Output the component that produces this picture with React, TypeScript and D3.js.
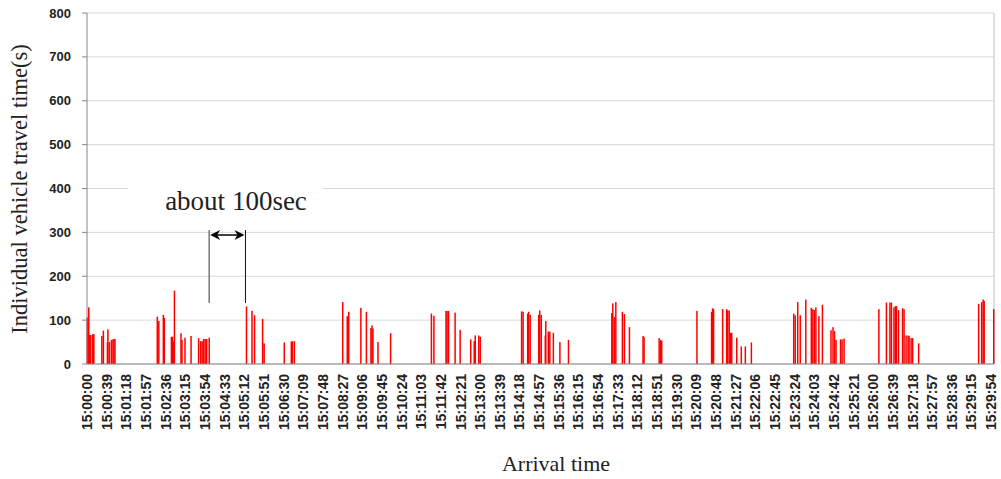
import React from "react";
import * as d3 from "d3";

// Arrival time, seconds after 15:00:00
const arrivalSec: number[] = [
  0, 3, 5, 7, 11, 12, 13, 29, 32, 40, 41, 44, 48, 51, 53, 55,
  139, 142, 151, 153, 167, 169, 171, 173, 186, 188, 194, 206, 221, 225, 228, 231, 234, 237, 242,
  316, 327, 332, 348, 351,
  391, 405, 407, 411,
  507, 516, 519, 543, 554, 563, 565, 567, 577, 602,
  683, 688, 712, 714, 717, 730, 740, 761, 768, 770, 777, 780,
  862, 865, 874, 876, 879, 896, 898, 901, 909, 910, 915, 918, 925, 938, 955,
  1041, 1043, 1046, 1049, 1062, 1066, 1076, 1103, 1105, 1135, 1138, 1140,
  1210, 1239, 1241, 1243, 1261, 1269, 1271, 1274, 1277, 1279, 1289, 1298, 1306, 1318,
  1402, 1405, 1410, 1415, 1426, 1437, 1440, 1443, 1446, 1452, 1459, 1476, 1480, 1483, 1486, 1495, 1498, 1502,
  1571, 1586, 1593, 1596, 1601, 1604, 1606, 1610, 1618, 1621, 1625, 1629, 1631, 1635, 1638, 1650,
  1769, 1775, 1778, 1780, 1799,
];

// Individual vehicle travel time (s)
const travelTime: number[] = [
  106, 129, 66, 66, 68, 67, 68, 64, 76, 50, 79, 50, 55, 56, 57, 57,
  108, 98, 112, 105, 62, 62, 52, 167, 70, 55, 60, 64, 59, 52, 52, 57, 57, 57, 60,
  131, 121, 111, 103, 47,
  49, 51, 52, 52,
  141, 109, 119, 128, 119, 82, 88, 81, 50, 70,
  115, 110, 121, 121, 121, 117, 78, 56, 52, 65, 65, 62,
  120, 119, 115, 119, 112, 112, 122, 112, 65, 98, 74, 74, 71, 50, 55,
  116, 138, 107, 141, 119, 114, 84, 64, 61, 59, 55, 53,
  121, 119, 127, 125, 125, 125, 122, 122, 71, 71, 60, 40, 40, 49,
  115, 111, 141, 111, 147, 128, 125, 123, 129, 109, 135, 77, 84, 75, 55, 56, 56, 58,
  125, 140, 140, 140, 129, 132, 132, 123, 127, 125, 65, 65, 64, 59, 59, 47,
  137, 141, 147, 144, 125,
];

const yTicks: number[] = [0, 100, 200, 300, 400, 500, 600, 700, 800];
const xTickSec: number[] = d3.range(0, 1800, 39);

const W = 1001;
const H = 479;
const left = 87;
const right = 994;
const top = 13;
const bottom = 364;

export default function App() {
  const x = d3.scaleLinear().domain([-0.5, 1799.5]).range([left, right]);
  const y = d3.scaleLinear().domain([0, 800]).range([bottom, top]);
  const base = new Date(2000, 0, 1, 15, 0, 0);
  const fmt = d3.timeFormat("%H:%M:%S");
  const label = (s: number) => fmt(new Date(base.getTime() + s * 1000));
  const data = arrivalSec.map((t, i) => ({ t, v: travelTime[i] }));
  const sans = "'Liberation Sans', Arial, sans-serif";
  const serif = "'Liberation Serif', 'Times New Roman', serif";

  return (
    <svg
      width={W}
      height={H}
      style={{ position: "absolute", left: 0, top: 0, background: "#fff" }}
    >
      <rect x={0} y={0} width={W} height={H} fill="#fff" />
      {yTicks.map((v) => (
        <line key={"g" + v} x1={left} x2={right} y1={y(v)} y2={y(v)} stroke="#d9d9d9" strokeWidth={1} />
      ))}
      <line x1={right} x2={right} y1={top} y2={bottom} stroke="#bfbfbf" strokeWidth={1} />
      {data.map((d, i) => (
        <rect
          key={i}
          x={x(d.t) - 0.75}
          width={1.5}
          y={y(d.v)}
          height={y(0) - y(d.v)}
          fill="#ff0000"
        />
      ))}
      <line x1={left} x2={left} y1={top} y2={bottom} stroke="#868686" strokeWidth={1} />
      <line x1={left} x2={right} y1={bottom} y2={bottom} stroke="#868686" strokeWidth={1} />
      {yTicks.map((v) => (
        <g key={"t" + v}>
          <line x1={left - 5} x2={left} y1={y(v)} y2={y(v)} stroke="#868686" />
          <text
            x={71}
            y={y(v)}
            dy="0.35em"
            textAnchor="end"
            fontFamily={sans}
            fontWeight="bold"
            fontSize={13}
            fill="#222"
          >
            {v}
          </text>
        </g>
      ))}
      {xTickSec.map((s) => (
        <text
          key={"x" + s}
          transform={`translate(${x(s)},${374}) rotate(-90)`}
          dy="0.35em"
          textAnchor="end"
          fontFamily={sans}
          fontWeight="bold"
          fontSize={14}
          fill="#222"
        >
          {label(s)}
        </text>
      ))}
      <text
        transform={`translate(27,189) rotate(-90)`}
        textAnchor="middle"
        fontFamily={serif}
        fontSize={22.5}
        fill="#222"
      >
        Individual vehicle travel time(s)
      </text>
      <text x={556} y={471} textAnchor="middle" fontFamily={serif} fontSize={22} fill="#222">
        Arrival time
      </text>
      {/* annotation */}
      <rect x={128} y={172} width={194} height={52} fill="#fff" />
      <text x={236} y={210} textAnchor="middle" fontFamily={serif} fontSize={27} fill="#222">
        about 100sec
      </text>
      <line x1={x(242)} x2={x(242)} y1={230} y2={303} stroke="#777" strokeWidth={1.5} />
      <line x1={x(314)} x2={x(314)} y1={230} y2={303} stroke="#111" strokeWidth={1} />
      <line x1={x(242) + 8} x2={x(314) - 8} y1={235} y2={235} stroke="#000" strokeWidth={1.5} />
      <path
        d={`M${x(242) + 1},235 L${x(242) + 11},230 L${x(242) + 8},235 L${x(242) + 11},240 Z`}
        fill="#000"
      />
      <path
        d={`M${x(314) - 1},235 L${x(314) - 11},230 L${x(314) - 8},235 L${x(314) - 11},240 Z`}
        fill="#000"
      />
    </svg>
  );
}
